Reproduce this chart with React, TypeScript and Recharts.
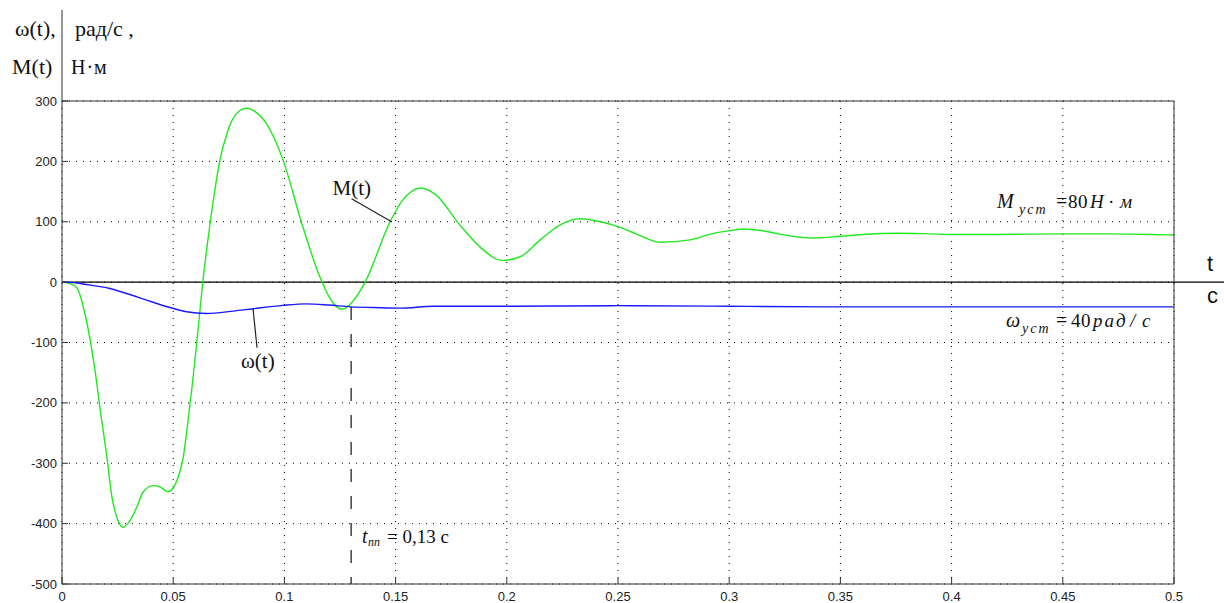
import {
  ComposedChart,
  Line,
  XAxis,
  YAxis,
  CartesianGrid,
  ReferenceLine,
  ReferenceDot,
} from "recharts";

// time axis, seconds
const timeTicks = [0, 0.05, 0.1, 0.15, 0.2, 0.25, 0.3, 0.35, 0.4, 0.45, 0.5];
const valueTicks = [300, 200, 100, 0, -100, -200, -300, -400, -500];

// M(t), N·m
const torqueTime = [
  0, 0.004, 0.0066, 0.011, 0.0148, 0.0175, 0.0202, 0.0224, 0.025, 0.0274,
  0.03, 0.0337, 0.0364, 0.041, 0.044, 0.0476, 0.05, 0.0525, 0.0543, 0.0565,
  0.0588, 0.0606, 0.0633, 0.0667, 0.0709, 0.0745, 0.078, 0.0829, 0.087, 0.092,
  0.0996, 0.1076, 0.1158, 0.121, 0.126, 0.13, 0.1363, 0.1475, 0.153, 0.1614,
  0.168, 0.1786, 0.188, 0.198, 0.206, 0.215, 0.224, 0.2333, 0.242, 0.25,
  0.258, 0.269, 0.2824, 0.292, 0.3, 0.3065, 0.315, 0.3234, 0.3375, 0.35,
  0.36, 0.375, 0.39, 0.4, 0.42, 0.45, 0.47, 0.49, 0.5,
];
const torqueValue = [
  0, -3, -9, -64, -145, -220, -290, -355, -393, -406,
  -398, -372, -348, -337, -339, -347, -341, -320, -295, -235,
  -163, -100, 0, 100, 200, 250, 277, 288, 282, 262,
  200, 100, 10, -30, -45, -35, 0, 100, 135, 156,
  145, 96, 58, 36, 42, 70, 95, 105, 100, 92,
  80, 66, 70, 80, 85, 88, 85, 79, 73, 76,
  79, 81, 80, 79, 79, 80, 80, 79, 78,
];

// ω(t), rad/s
const speedTime = [
  0, 0.006, 0.0094, 0.0215, 0.035, 0.0485, 0.056, 0.065, 0.077, 0.086,
  0.0993, 0.11, 0.12, 0.13, 0.14, 0.152, 0.167, 0.197, 0.25, 0.3,
  0.35, 0.4, 0.45, 0.5,
];
const speedValue = [
  0, -1, -3, -10.5, -26, -42, -49, -52, -48, -44,
  -38.5, -36, -38, -41, -42, -43, -40, -40, -39, -40,
  -41, -41, -41, -41,
];

const T_PP = 0.13;

const torqueData = torqueTime.map((t, i) => ({ t, m: torqueValue[i] }));
const speedData = speedTime.map((t, i) => ({ t, w: speedValue[i] }));

const valueAt = (ts: number[], vs: number[], t: number) => {
  const i = ts.findIndex((x) => x >= t);
  return vs[i < 0 ? vs.length - 1 : i];
};

const W = 1224;
const H = 603;
const LEFT = 62;
const RIGHT = 50;
const TOP = 101;
const BOTTOM = 19;
const PLOT_H = H - TOP - BOTTOM;
const ZERO_Y = TOP + (PLOT_H * 300) / 800;

const AXIS = "#333";
const SERIF = "'Liberation Serif', 'Times New Roman', serif";
const SANS = "'Liberation Sans', Arial, sans-serif";

const BottomTick = ({ x, y, payload }: any) => (
  <g>
    <line x1={x} x2={x} y1={y} y2={y - 6} stroke={AXIS} />
    <text x={x} y={y + 17} textAnchor="middle" fontSize={13} fontFamily={SANS} fill="#222">
      {payload.value}
    </text>
  </g>
);

const TopTick = ({ x, y }: any) => <line x1={x} x2={x} y1={y} y2={y + 6} stroke={AXIS} />;

const LeftTick = ({ x, y, payload }: any) => (
  <g>
    <line x1={x} x2={x + 6} y1={y} y2={y} stroke={AXIS} />
    <text x={x - 5} y={y} dy="0.35em" textAnchor="end" fontSize={13} fontFamily={SANS} fill="#222">
      {payload.value}
    </text>
  </g>
);

const RightTick = ({ x, y }: any) => <line x1={x} x2={x - 6} y1={y} y2={y} stroke={AXIS} />;

const leader = (dx: number, dy: number, tx: number, ty: number, label: string) => (p: any) => (
  <g>
    <line x1={p.cx} y1={p.cy} x2={p.cx + dx} y2={p.cy + dy} stroke="#222" strokeWidth={1.2} />
    <text x={p.cx + tx} y={p.cy + ty} fontSize={21} fontFamily={SERIF} fill="#111">
      {label}
    </text>
  </g>
);

export default function App() {
  return (
    <div style={{ position: "absolute", left: 0, top: 0, width: W, height: H, background: "#fff" }}>
      <ComposedChart width={W} height={H} margin={{ top: TOP - 10, right: 0, bottom: 0, left: 0 }}>
        <CartesianGrid stroke="#000" strokeDasharray="1 6" />
        <XAxis
          dataKey="t"
          type="number"
          domain={[0, 0.5]}
          ticks={timeTicks}
          interval={0}
          height={BOTTOM}
          tickSize={0}
          tickMargin={0}
          tickLine={false}
          axisLine={{ stroke: AXIS }}
          tick={<BottomTick />}
          allowDataOverflow
        />
        <XAxis
          xAxisId="top"
          orientation="top"
          dataKey="t"
          type="number"
          domain={[0, 0.5]}
          ticks={timeTicks}
          interval={0}
          height={10}
          tickSize={0}
          tickMargin={0}
          tickLine={false}
          axisLine={{ stroke: AXIS }}
          tick={<TopTick />}
        />
        <YAxis
          type="number"
          domain={[-500, 300]}
          ticks={valueTicks}
          interval={0}
          width={LEFT}
          tickSize={0}
          tickMargin={0}
          tickLine={false}
          axisLine={{ stroke: AXIS }}
          tick={<LeftTick />}
          allowDataOverflow
        />
        <YAxis
          yAxisId="r"
          orientation="right"
          type="number"
          domain={[-500, 300]}
          ticks={valueTicks}
          interval={0}
          width={RIGHT}
          tickSize={0}
          tickMargin={0}
          tickLine={false}
          axisLine={{ stroke: AXIS }}
          tick={<RightTick />}
        />
        <ReferenceLine y={0} stroke="#000" strokeWidth={1.2} />
        <ReferenceLine
          segment={[
            { x: T_PP, y: valueAt(speedTime, speedValue, T_PP) },
            { x: T_PP, y: -500 },
          ]}
          stroke="#111"
          strokeWidth={1.2}
          strokeDasharray="13 14"
        />
        <Line
          data={torqueData}
          dataKey="m"
          type="monotone"
          stroke="#22e822"
          strokeWidth={1.4}
          dot={false}
          isAnimationActive={false}
        />
        <Line
          data={speedData}
          dataKey="w"
          type="monotone"
          stroke="#1a1aff"
          strokeWidth={1.4}
          dot={false}
          isAnimationActive={false}
        />
        <ReferenceDot x={0.1482} y={100} r={0} shape={leader(-40, -23, -59, -27, "M(t)")} />
        <ReferenceDot x={0.0859} y={-44} r={0} shape={leader(4, 39, -12, 59, "ω(t)")} />
      </ComposedChart>

      <svg
        width={W}
        height={H}
        style={{ position: "absolute", left: 0, top: 0, pointerEvents: "none" }}
      >
        {/* axis extensions outside the plot box */}
        <line x1={LEFT} x2={LEFT} y1={10} y2={TOP} stroke={AXIS} />
        <line x1={W - RIGHT} x2={W} y1={ZERO_Y} y2={ZERO_Y} stroke="#000" strokeWidth={1.2} />

        <g fontFamily={SERIF} fontSize={22} fill="#111">
          <text x={15} y={36}>ω(t),</text>
          <text x={75} y={36}>рад/с ,</text>
          <text x={12} y={74}>M(t)</text>
          <text x={71} y={74} fontSize={20} letterSpacing={1}>Н·м</text>
        </g>

        <g fontFamily={SANS} fontSize={22} fill="#111">
          <text x={1207} y={271}>t</text>
          <text x={1207} y={303}>c</text>
        </g>

        <g fontFamily={SERIF} fill="#111">
          <text x={997} y={208} fontSize={20} fontStyle="italic">M</text>
          <text x={1019} y={214} fontSize={14} fontStyle="italic" letterSpacing={2}>уст</text>
          <text x={1056} y={208} fontSize={20}>=</text>
          <text x={1068} y={208} fontSize={19}>8</text>
          <text x={1078} y={208} fontSize={19}>0</text>
          <text x={1090} y={208} fontSize={19} fontStyle="italic">H</text>
          <text x={1108} y={208} fontSize={19}>·</text>
          <text x={1120} y={208} fontSize={19} fontStyle="italic">м</text>

          <text x={1006} y={327} fontSize={20} fontStyle="italic">ω</text>
          <text x={1022} y={333} fontSize={14} fontStyle="italic" letterSpacing={2}>уст</text>
          <text x={1056} y={327} fontSize={20}>=</text>
          <text x={1071} y={327} fontSize={19}>4</text>
          <text x={1081} y={327} fontSize={19}>0</text>
          <text x={1093} y={327} fontSize={19} fontStyle="italic" letterSpacing={2}>рад</text>
          <text x={1130} y={327} fontSize={19} fontStyle="italic">/</text>
          <text x={1142} y={327} fontSize={19} fontStyle="italic">с</text>

          <text x={362} y={543} fontSize={20} fontStyle="italic">t</text>
          <text x={368} y={546} fontSize={12} fontStyle="italic">пп</text>
          <text x={387} y={543} fontSize={19}>= 0,13 с</text>
        </g>
      </svg>
    </div>
  );
}
